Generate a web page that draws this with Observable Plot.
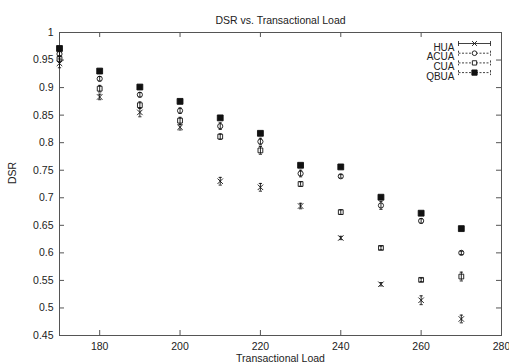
<!DOCTYPE html>
<html>
<head>
<meta charset="utf-8">
<script src="https://cdn.jsdelivr.net/npm/d3@7"></script>
<script src="https://cdn.jsdelivr.net/npm/@observablehq/plot@0.6"></script>
<style>
  html, body { margin: 0; padding: 0; background: #fff; }
</style>
</head>
<body>
<div id="chart"></div>
<script>
const loads = [170, 180, 190, 200, 210, 220, 230, 240, 250, 260, 270];
const seriesNames = ["HUA", "ACUA", "CUA", "QBUA"];
const hua  = [0.944, 0.883, 0.855, 0.828, 0.730, 0.719, 0.685, 0.627, 0.543, 0.514, 0.480];
const acua = [0.961, 0.916, 0.887, 0.858, 0.830, 0.802, 0.744, 0.739, 0.686, 0.658, 0.600];
const cua  = [0.952, 0.898, 0.868, 0.840, 0.811, 0.786, 0.725, 0.674, 0.609, 0.551, 0.557];
const qbua = [0.971, 0.930, 0.901, 0.875, 0.845, 0.817, 0.759, 0.756, 0.701, 0.672, 0.644];
const huaErr  = [0.008, 0.005, 0.008, 0.005, 0.007, 0.007, 0.005, 0.003, 0.003, 0.008, 0.007];
const acuaErr = [0.005, 0.004, 0.004, 0.005, 0.006, 0.006, 0.006, 0.003, 0.007, 0.004, 0.003];
const cuaErr  = [0.006, 0.006, 0.006, 0.006, 0.005, 0.007, 0.004, 0.004, 0.003, 0.003, 0.008];
const qbuaErr = [0.003, 0.003, 0.003, 0.003, 0.003, 0.003, 0.003, 0.003, 0.003, 0.003, 0.003];
const xTicks = [180, 200, 220, 240, 260, 280];
const yTicks = [0.45, 0.5, 0.55, 0.6, 0.65, 0.7, 0.75, 0.8, 0.85, 0.9, 0.95, 1];
const titleText = "DSR vs. Transactional Load";
const xLabel = "Transactional Load";
const yLabel = "DSR";

const values = [hua, acua, cua, qbua];
const errs = [huaErr, acuaErr, cuaErr, qbuaErr];
const style = {
  HUA:  {symbol: "times",  fill: "none", r: 2.6, dash: null},
  ACUA: {symbol: "circle", fill: "none", r: 2.6, dash: "2,1.5"},
  CUA:  {symbol: "square", fill: "none", r: 2.7, dash: "2,1.5"},
  QBUA: {symbol: "square", fill: "#111", r: 3.3, dash: "2,1.5"}
};

const rows = seriesNames.flatMap((s, i) => loads.map((x, j) => ({
  series: s, x, y: values[i][j], lo: values[i][j] - errs[i][j], hi: values[i][j] + errs[i][j]
})));

const capSymbol = {draw(ctx, size) { const r = Math.sqrt(size / Math.PI); ctx.moveTo(-r, 0); ctx.lineTo(r, 0); }};
const legendBar = {draw(ctx, size) {
  const r = Math.sqrt(size / Math.PI);
  ctx.moveTo(-r, 0); ctx.lineTo(r, 0);
  ctx.moveTo(-r, -2.5); ctx.lineTo(-r, 2.5);
  ctx.moveTo(r, -2.5); ctx.lineTo(r, 2.5);
}};

const font = "'Liberation Sans', Arial, Helvetica, sans-serif";
const ink = "#222";
const frameColor = "#555";
const W = 509, H = 364, ML = 59, MR = 8, MT = 32, MB = 29;
const FW = W - ML - MR, FH = H - MT - MB;

const marks = [];
// inward ticks (gnuplot style), mirrored
marks.push(Plot.tickX(xTicks, {x: d => d, insetTop: FH - 5, stroke: frameColor}));
marks.push(Plot.tickX(xTicks, {x: d => d, insetBottom: FH - 5, stroke: frameColor}));
marks.push(Plot.tickY(yTicks, {y: d => d, insetRight: FW - 5, stroke: frameColor}));
marks.push(Plot.tickY(yTicks, {y: d => d, insetLeft: FW - 5, stroke: frameColor}));
marks.push(Plot.frame({stroke: frameColor, strokeWidth: 1}));

marks.push(Plot.axisX({ticks: xTicks, tickSize: 0, tickPadding: 7, tickFormat: d => String(d), label: null, fontSize: 10.5, fill: ink}));
marks.push(Plot.axisY({ticks: yTicks, tickSize: 0, tickPadding: 6, tickFormat: d => String(+d.toFixed(2)), label: null, fontSize: 10.5, fill: ink}));

// error bars and points
for (const s of seriesNames) {
  const st = style[s];
  const d = rows.filter(r => r.series === s);
  marks.push(Plot.ruleX(d, {x: "x", y1: "lo", y2: "hi", stroke: "#111", strokeWidth: 0.9}));
  marks.push(Plot.dot(d, {x: "x", y: "hi", symbol: capSymbol, r: 1.6, stroke: "#111", strokeWidth: 0.9}));
  marks.push(Plot.dot(d, {x: "x", y: "lo", symbol: capSymbol, r: 1.6, stroke: "#111", strokeWidth: 0.9}));
  marks.push(Plot.dot(d, {x: "x", y: "y", symbol: st.symbol, r: st.r, stroke: "#111", fill: st.fill, strokeWidth: 0.9}));
}

// legend (top-right, inside the frame)
seriesNames.forEach((s, i) => {
  const st = style[s];
  const dy = 11 + 9.7 * i;
  marks.push(Plot.text([s], {text: d => d, frameAnchor: "top-right", dx: -47, dy, textAnchor: "end", fontSize: 10, fill: ink, fontFamily: font}));
  marks.push(Plot.dot([s], {frameAnchor: "top-right", dx: -27, dy, symbol: legendBar, r: 16, stroke: "#111", strokeWidth: 0.8, strokeDasharray: st.dash}));
  marks.push(Plot.dot([s], {frameAnchor: "top-right", dx: -27, dy, symbol: st.symbol, r: st.r * 0.9, stroke: "#111", fill: st.fill === "none" ? "white" : st.fill, strokeWidth: 0.9}));
});

// title and axis labels
marks.push(Plot.text([titleText], {text: d => d, frameAnchor: "top", dy: -16, fontSize: 10.5, fill: ink, fontFamily: font}));
marks.push(Plot.text([xLabel], {text: d => d, frameAnchor: "bottom", dy: 26, fontSize: 10.5, fill: ink, fontFamily: font}));
marks.push(Plot.text([yLabel], {text: d => d, frameAnchor: "left", dx: -47, rotate: -90, fontSize: 10.5, fill: ink, fontFamily: font}));

const chart = Plot.plot({
  width: W, height: H,
  marginLeft: ML, marginRight: MR, marginTop: MT, marginBottom: MB,
  style: {fontFamily: font, background: "#fff", overflow: "visible"},
  x: {domain: [170, 280]},
  y: {domain: [0.45, 1]},
  marks
});
document.getElementById("chart").appendChild(chart);
</script>
</body>
</html>
